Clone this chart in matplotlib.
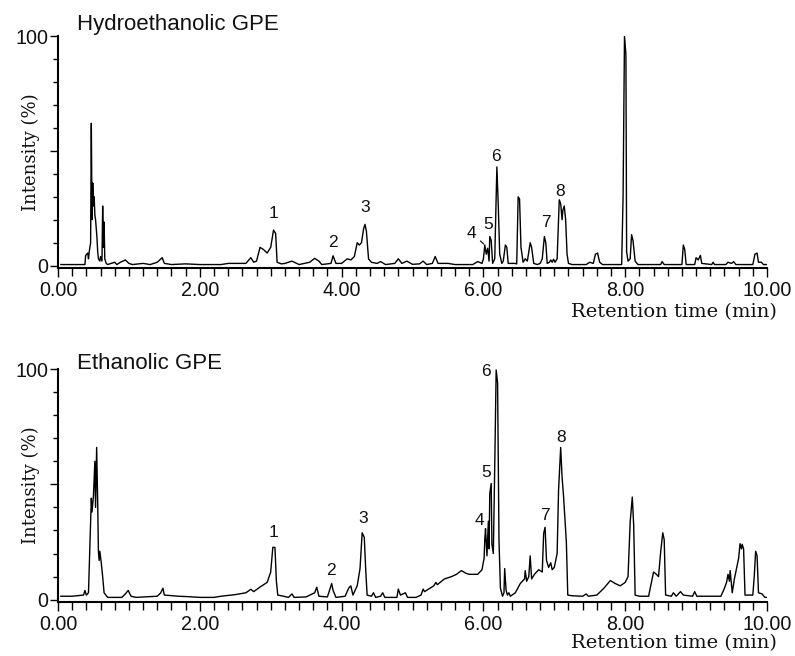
import matplotlib
matplotlib.use('Agg')
import matplotlib.pyplot as plt
from matplotlib.ticker import MultipleLocator, FixedLocator
import numpy as np

# Hydroethanolic GPE trace (retention time in min, intensity in %)
hydro_time = [0.04, 0.38, 0.39, 0.42, 0.43, 0.44, 0.46, 0.47, 0.48, 0.49, 0.50, 0.51, 0.52, 0.53,
              0.55, 0.56, 0.57, 0.59, 0.60, 0.62, 0.63, 0.64, 0.65, 0.66, 0.68, 0.70, 0.75, 0.80,
              0.83, 0.88, 0.95, 1.00, 1.05, 1.20, 1.30, 1.40, 1.47, 1.50, 1.60, 1.80, 2.00, 2.30,
              2.40, 2.65, 2.72, 2.76, 2.80, 2.85, 2.90, 2.95, 3.00, 3.04, 3.07, 3.09, 3.15, 3.20,
              3.30, 3.40, 3.55, 3.62, 3.68, 3.72, 3.85, 3.88, 3.92, 4.00, 4.08, 4.13, 4.18, 4.22,
              4.25, 4.28, 4.31, 4.33, 4.35, 4.38, 4.42, 4.50, 4.55, 4.62, 4.75, 4.80, 4.85, 4.92,
              5.00, 5.10, 5.15, 5.20, 5.28, 5.32, 5.36, 5.50, 5.60, 5.85, 5.92, 5.98, 6.00, 6.02,
              6.04, 6.06, 6.08, 6.09, 6.11, 6.13, 6.16, 6.19, 6.21, 6.23, 6.26, 6.28, 6.31, 6.33,
              6.35, 6.40, 6.44, 6.47, 6.49, 6.51, 6.53, 6.56, 6.59, 6.62, 6.66, 6.68, 6.71, 6.76,
              6.80, 6.83, 6.86, 6.88, 6.90, 6.93, 6.95, 6.97, 6.99, 7.01, 7.04, 7.07, 7.09, 7.11,
              7.12, 7.14, 7.16, 7.18, 7.20, 7.25, 7.45, 7.50, 7.55, 7.58, 7.61, 7.64, 7.68, 7.95,
              7.97, 7.99, 8.01, 8.02, 8.04, 8.07, 8.09, 8.11, 8.14, 8.18, 8.50, 8.52, 8.55, 8.80,
              8.82, 8.84, 8.86, 8.98, 9.00, 9.03, 9.06, 9.08, 9.22, 9.24, 9.26, 9.42, 9.45, 9.50,
              9.53, 9.56, 9.80, 9.83, 9.86, 9.88, 9.92, 9.95, 10.00]
hydro_int = [0.5, 0.5, 4.5, 5.5, 3, 6, 10, 62, 20, 36, 26, 30, 22, 20,
             12, 6, 3, 2, 4, 2, 26, 8, 19, 3, 1, 0.5, 1, 1.5,
             0.5, 1.5, 2.5, 1, 0.5, 1, 0.5, 1.5, 3.5, 1, 0.5, 0.8, 0.5, 0.5,
             1, 1, 3.5, 1.5, 2, 8, 7, 5.5, 8, 15.5, 14, 1.5, 0.8, 1,
             2, 0.5, 1.5, 3.2, 2, 0.5, 1, 4.3, 1, 1, 3, 2.5, 4, 10,
             9, 10, 16, 18, 15, 3, 1.5, 1, 1.8, 0.5, 1, 3, 1, 2,
             0.6, 0.8, 2, 0.5, 1, 4, 1, 1, 0.5, 0.5, 1.8, 1, 3, 9,
             5, 7.6, 2, 12.7, 11, 1, 3, 43, 26, 5, 1, 2, 9, 8,
             1, 1, 1, 0.8, 30, 29, 8, 1.5, 3, 2, 10, 8, 1, 0.5,
             1, 3, 12.7, 10, 1, 1.5, 2.5, 1.5, 2.8, 1.5, 3, 28.7, 27, 20,
             24, 26, 20, 5, 1, 0.5, 0.5, 1.5, 1, 5, 5.5, 1.5, 0.5, 0.5,
             30, 100, 92, 6, 2, 3, 13.5, 11, 2, 0.5, 0.5, 1.8, 0.5, 0.5,
             9, 7, 0.5, 0.5, 3.5, 2.5, 4.5, 1, 0.5, 1.5, 0.5, 0.5, 1.5, 1,
             1.8, 0.5, 0.5, 5, 5.5, 1.5, 1.5, 0.5, 0.5]

# Ethanolic GPE trace
etha_time = [0.04, 0.20, 0.36, 0.38, 0.40, 0.43, 0.45, 0.47, 0.48, 0.50, 0.52, 0.53, 0.545, 0.56,
             0.57, 0.58, 0.59, 0.61, 0.63, 0.65, 0.70, 0.90, 0.95, 0.99, 1.03, 1.10, 1.40, 1.45,
             1.48, 1.50, 1.70, 1.85, 2.00, 2.20, 2.30, 2.50, 2.65, 2.72, 2.76, 2.85, 2.95, 3.00,
             3.03, 3.06, 3.08, 3.10, 3.18, 3.25, 3.30, 3.33, 3.50, 3.62, 3.65, 3.68, 3.80, 3.84,
             3.86, 3.88, 3.92, 4.05, 4.10, 4.13, 4.16, 4.22, 4.26, 4.29, 4.32, 4.34, 4.36, 4.42,
             4.45, 4.48, 4.55, 4.58, 4.61, 4.78, 4.80, 4.83, 4.90, 4.93, 5.05, 5.12, 5.15, 5.17,
             5.30, 5.33, 5.35, 5.45, 5.55, 5.62, 5.69, 5.75, 5.80, 5.92, 5.98, 6.01, 6.02, 6.03,
             6.05, 6.07, 6.08, 6.09, 6.11, 6.12, 6.14, 6.16, 6.18, 6.20, 6.22, 6.24, 6.27, 6.29,
             6.30, 6.32, 6.34, 6.36, 6.38, 6.45, 6.52, 6.58, 6.59, 6.61, 6.64, 6.66, 6.68, 6.72,
             6.78, 6.83, 6.85, 6.87, 6.89, 6.92, 6.95, 6.97, 7.00, 7.04, 7.06, 7.09, 7.11, 7.13,
             7.15, 7.17, 7.19, 7.25, 7.40, 7.45, 7.48, 7.60, 7.70, 7.79, 7.86, 7.93, 8.00, 8.04,
             8.07, 8.10, 8.12, 8.14, 8.20, 8.33, 8.36, 8.40, 8.44, 8.47, 8.50, 8.53, 8.55, 8.57,
             8.65, 8.68, 8.72, 8.78, 8.82, 8.95, 8.98, 9.01, 9.20, 9.35, 9.40, 9.43, 9.45, 9.47,
             9.48, 9.51, 9.54, 9.57, 9.60, 9.62, 9.64, 9.65, 9.67, 9.69, 9.80, 9.82, 9.84, 9.86,
             9.88, 9.93, 9.97, 10.00]
etha_int = [1.5, 1.5, 2, 4, 2, 3, 23, 44, 38, 45, 60, 40, 66, 42,
            21, 17, 21, 16, 10, 3, 1, 1, 2.5, 4, 1.5, 1, 1.5, 3,
            5, 2, 1.5, 1.3, 1, 1, 1.5, 2.2, 3, 4.5, 3.5, 5.5, 7.5, 12,
            22.7, 22.7, 8, 2, 1.5, 1, 2.5, 1, 1.2, 3, 5.4, 1.5, 1.2, 5,
            7, 4, 1, 1.5, 5, 6, 2, 6, 13.5, 29, 27, 13, 2, 1.5,
            3, 1, 1.5, 3, 1, 1, 4.6, 2, 3, 1, 1, 2, 4.6, 3.5,
            6, 7.5, 6.5, 9, 10, 11, 12.6, 11.5, 11, 11, 13, 18, 26.5, 30.8,
            19, 34, 22, 46, 50.4, 24, 20, 58, 99.6, 94, 25.6, 5, 1.5, 3,
            13.5, 4, 2, 3, 1.5, 3, 7, 9, 12.6, 8, 10, 19, 9, 11,
            13, 12, 28.7, 31.4, 17, 14, 16, 13, 14, 20, 47.4, 66, 53, 45,
            35, 25, 2, 1.7, 1.5, 2.5, 1.5, 2, 5, 8.3, 7, 6, 7.5, 10,
            33.6, 44.5, 32, 2, 1.5, 1.5, 6, 12, 11, 10, 20.6, 29, 26, 2,
            1.5, 3, 1.5, 3.5, 2, 1.5, 3.5, 1.5, 1.5, 1.5, 5, 7.5, 11, 8,
            12.6, 3, 9, 13.5, 18, 24.3, 22, 24, 22, 2, 2, 10, 21, 19,
            3, 2.5, 1, 1]

peak_names = ['1', '2', '3', '4', '5', '6', '7', '8']
hydro_peak_rt = [3.04, 3.88, 4.33, 6.02, 6.09, 6.19, 6.86, 7.07]
etha_peak_rt = [3.05, 3.86, 4.29, 6.03, 6.11, 6.18, 6.87, 7.09]

# label offsets from the apex, in pixels
hydro_offsets = [(0, 17), (0, 13), (0, 17), (-13, 12), (-2, 12), (-1, 10), (2, 14), (1, 8)]
etha_offsets = [(-1, 15), (-1, 13), (1, 14), (-6, 8), (-5, 11), (-10, -2), (0, 12), (0, 10)]

SANS = ['Liberation Sans', 'DejaVu Sans']
SERIF = 'DejaVu Serif'
INK = '#111111'

fig = plt.figure(figsize=(7.95, 6.56), dpi=100)
ax1 = fig.add_axes([58 / 795, 1 - 268 / 656, 709 / 795, 232 / 656])
ax2 = fig.add_axes([58 / 795, 1 - 602 / 656, 709 / 795, 233 / 656])


def style_axes(ax, title, title_dy, xlab_y):
    ax.set_xlim(0, 10)
    ax.set_ylim(-1, 100)
    for side in ('top', 'right'):
        ax.spines[side].set_visible(False)
    for side in ('left', 'bottom'):
        ax.spines[side].set_linewidth(1.5)
    ax.xaxis.set_major_locator(MultipleLocator(2))
    ax.xaxis.set_minor_locator(MultipleLocator(0.2))
    ax.yaxis.set_major_locator(FixedLocator([0, 50, 100]))
    ax.yaxis.set_minor_locator(FixedLocator([10, 20, 30, 40, 60, 70, 80, 90]))
    ax.set_xticklabels(['%.2f' % v for v in ax.get_xticks()])
    ax.set_yticklabels(['0', '', '100'])
    ax.tick_params(axis='x', which='major', direction='out', length=6.5, width=1, pad=3)
    ax.tick_params(axis='x', which='minor', direction='out', length=5.5, width=1)
    ax.tick_params(axis='y', which='major', direction='out', length=6, width=1, pad=1)
    ax.tick_params(axis='y', which='minor', direction='out', length=3.5, width=1)
    for lab in ax.get_xticklabels() + ax.get_yticklabels():
        lab.set_family(SANS)
        lab.set_fontsize(14.2)
        lab.set_color(INK)
    ax.text(0.027, 1 + title_dy, title, transform=ax.transAxes, ha='left', va='baseline',
            fontsize=16, family=SANS, color=INK)
    ax.set_ylabel('Intensity (%)', family=SERIF, fontsize=13, color=INK)
    ax.yaxis.set_label_coords(-0.025, 0.5)
    ax.set_xlabel('Retention time (min)', family=SERIF, fontsize=14, color=INK,
                  ha='right', va='center')
    ax.xaxis.set_label_coords(1.014, xlab_y)


def label_peaks(ax, times, values, rts, offsets, leader_idx=None):
    for i, (name, rt, off) in enumerate(zip(peak_names, rts, offsets)):
        apex = np.interp(rt, times, values)
        arrow = None
        if i == leader_idx:
            arrow = dict(arrowstyle='-', lw=0.9, color=INK, shrinkA=1, shrinkB=1)
        ax.annotate(name, xy=(rt, apex), xytext=off, textcoords='offset pixels',
                    ha='center', va='center', fontsize=12.5, family=SANS, color=INK,
                    arrowprops=arrow)


ax1.plot(hydro_time, hydro_int, color='black', lw=1.0)
style_axes(ax1, 'Hydroethanolic GPE', 6 / 232, -0.192)
label_peaks(ax1, hydro_time, hydro_int, hydro_peak_rt, hydro_offsets, leader_idx=3)

ax2.plot(etha_time, etha_int, color='black', lw=1.0)
style_axes(ax2, 'Ethanolic GPE', 0.0, -0.177)
label_peaks(ax2, etha_time, etha_int, etha_peak_rt, etha_offsets)

fig.savefig('out.png', dpi=100, facecolor='white')
